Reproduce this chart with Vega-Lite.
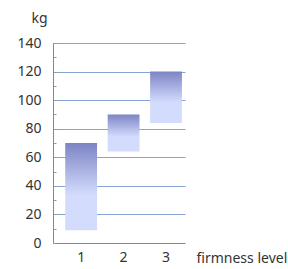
{
  "$schema": "https://vega.github.io/schema/vega-lite/v6.json",
  "autosize": "none",
  "width": 132,
  "height": 200,
  "padding": {"left": 53, "top": 43, "right": 103, "bottom": 26},
  "data": {"values": [
    {"level": "1", "low": 9, "high": 70},
    {"level": "2", "low": 64, "high": 90},
    {"level": "3", "low": 84, "high": 120}
  ]},
  "config": {
    "view": {"stroke": null},
    "font": "Noto Sans",
    "axis": {"labelFont": "Noto Sans", "titleFont": "Noto Sans", "labelColor": "#333333", "titleColor": "#333333", "labelFontSize": 14, "titleFontSize": 14, "titleFontWeight": "normal", "domainColor": "#888888", "tickColor": "#999999"}
  },
  "mark": {
    "type": "bar",
    "color": {
      "gradient": "linear", "x1": 0, "y1": 0, "x2": 0, "y2": 1,
      "stops": [
        {"offset": 0, "color": "#7d84c5"},
        {"offset": 0.6, "color": "#d3dcfd"},
        {"offset": 1, "color": "#d3dcfd"}
      ]
    }
  },
  "encoding": {
    "x": {
      "field": "level", "type": "ordinal",
      "scale": {"paddingInner": 0.25, "paddingOuter": 0.18, "align": 0.8},
      "axis": {
        "title": "firmness level", "labelAngle": 0, "ticks": false, "labelPadding": 7,
        "titleAnchor": "start", "titleAlign": "left", "titleX": 143, "titleY": 19, "titleBaseline": "alphabetic"
      }
    },
    "y": {
      "field": "low", "type": "quantitative",
      "scale": {"domain": [0, 140], "nice": false},
      "axis": {
        "title": "kg", "titleAngle": 0, "titleAlign": "center", "titleX": -14, "titleY": -21, "titleBaseline": "alphabetic",
        "values": [0, 10, 20, 30, 40, 50, 60, 70, 80, 90, 100, 110, 120, 130, 140],
        "labelExpr": "datum.value % 20 == 0 ? datum.label : ''",
        "tickSize": -3, "labelPadding": 15,
        "grid": true,
        "gridColor": {"condition": {"test": "datum.value % 20 == 0 && datum.value > 0", "value": "#86a4d6"}, "value": "transparent"},
        "gridOpacity": 1
      }
    },
    "y2": {"field": "high"}
  }
}
